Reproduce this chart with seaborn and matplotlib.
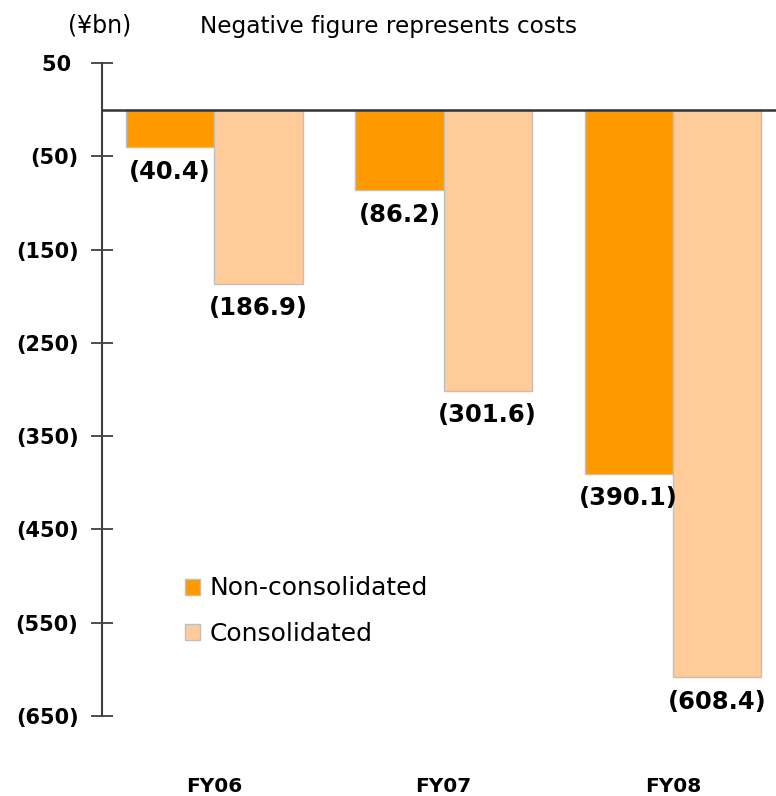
import pandas as pd
import seaborn as sns
import matplotlib
matplotlib.use("Agg")
from matplotlib import pyplot as plt

# data (¥bn, negative = costs)
years = ["FY06", "FY07", "FY08"]
series_names = ["Non-consolidated", "Consolidated"]
non_consolidated = [-40.4, -86.2, -390.1]
consolidated = [-186.9, -301.6, -608.4]
y_ticks = [50, -50, -150, -250, -350, -450, -550, -650]
y_tick_labels = ["50 ", "(50)", "(150)", "(250)", "(350)", "(450)", "(550)", "(650)"]

df = pd.DataFrame({
    "year": years * 2,
    "series": [series_names[0]] * 3 + [series_names[1]] * 3,
    "value": non_consolidated + consolidated,
})

sns.set_style("white")
plt.rcParams["font.family"] = ["DejaVu Sans"]
plt.rcParams["text.color"] = "black"
plt.rcParams["xtick.color"] = "black"
plt.rcParams["ytick.color"] = "black"

fig = plt.figure(figsize=(7.76, 7.96), dpi=100)
ax = fig.add_axes([102 / 776, 80 / 796, 1 - 102 / 776, (716 - 63) / 796])

palette = {"Non-consolidated": "#FF9900", "Consolidated": "#FFCC99"}
sns.barplot(data=df, x="year", y="value", hue="series", hue_order=series_names,
            palette=palette, width=0.77, saturation=1, edgecolor="#BFBFBF",
            linewidth=1, ax=ax, errorbar=None)

# value labels under each bar, bracketed like the source
for cont in ax.containers:
    vals = [b.get_height() for b in cont]
    ax.bar_label(cont, labels=["({:.1f})".format(abs(v)) for v in vals],
                 padding=9, fontsize=17.5, fontweight="bold", color="black")

ax.axhline(0, color="#333333", lw=1.8, zorder=3)

ax.set_ylim(-650, 50)
ax.set_xlim(-0.49, 2.45)
ax.set_yticks(y_ticks)
ax.set_yticklabels(y_tick_labels, fontsize=15, fontweight="bold")
ax.set_xticks(range(len(years)))
ax.set_xticklabels(years, fontsize=14.5, fontweight="bold")
ax.tick_params(axis="y", direction="inout", length=16, width=1.3, color="#404040",
               labelcolor="black", pad=9, left=True)
ax.tick_params(axis="x", length=0, pad=44, labelcolor="black")
ax.set_xlabel(None)
ax.set_ylabel(None)

for s in ["top", "right", "bottom"]:
    ax.spines[s].set_visible(False)
ax.spines["left"].set_color("#404040")
ax.spines["left"].set_linewidth(1.5)

handles, labels = ax.get_legend_handles_labels()
leg = ax.legend(handles, labels, loc="center left", bbox_to_anchor=(185 / 776, (796 - 611) / 796),
                bbox_transform=fig.transFigure, frameon=False, fontsize=18,
                handlelength=0.6, handleheight=0.6, handletextpad=0.4,
                labelspacing=0.85, borderpad=0, borderaxespad=0)
for t in leg.get_texts():
    t.set_color("black")

fig.text(68 / 776, 1 - 26 / 796, "(¥bn)", fontsize=17, ha="left", va="center")
fig.text(200 / 776, 1 - 26 / 796, "Negative figure represents costs", fontsize=16.7, ha="left", va="center")

plt.savefig("out.png", dpi=100)
plt.close()
